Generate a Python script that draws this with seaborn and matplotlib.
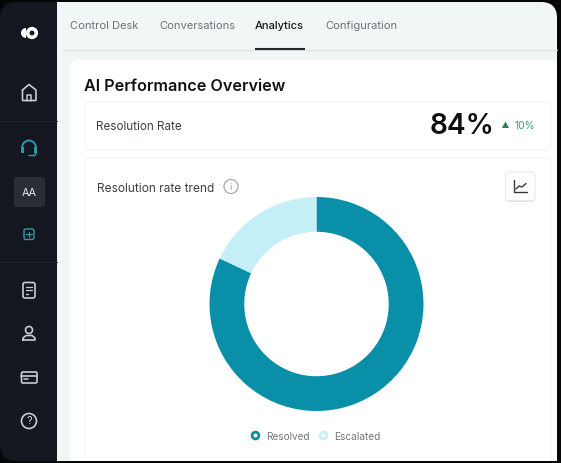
import matplotlib
matplotlib.use('Agg')
import matplotlib.pyplot as plt
from matplotlib.patches import FancyBboxPatch, Circle, Wedge, Rectangle, Arc, Polygon
import seaborn as sns

sns.set_theme(style='white')
plt.rcParams['font.family'] = ['Inter', 'DejaVu Sans']

# data
categories = ['Resolved', 'Escalated']
values = [82, 18]
colors = ['#0a8fa8', '#c5eff6']
tabs = ['Control Desk', 'Conversations', 'Analytics', 'Configuration']
tab_x = [70, 159, 255, 325]
title = 'AI Performance Overview'
kpi_label = 'Resolution Rate'
kpi_value = '84%'
kpi_delta = '10%'
card_title = 'Resolution rate trend'

W, H = 561, 463
DARK = '#14171f'
TEAL = '#2a9aa8'

fig = plt.figure(figsize=(W / 100, H / 100), dpi=100, facecolor='#050608')
bg = fig.add_axes([0, 0, 1, 1])
bg.set_xlim(0, W)
bg.set_ylim(H, 0)
bg.axis('off')


def rbox(x, y, w, h, r, fc, ec='none', lw=0, z=1):
    p = FancyBboxPatch((x + r, y + r), w - 2 * r, h - 2 * r,
                       boxstyle=f'round,pad={r},rounding_size={r}',
                       fc=fc, ec=ec, lw=lw, zorder=z)
    bg.add_patch(p)
    return p


# frame
rbox(0, 2, 300, 459, 16, DARK, z=1)
rbox(57, 2, 500, 459, 16, '#f1f6f7', z=2)
bg.add_patch(Rectangle((57, 2), 30, 459, fc='#f1f6f7', ec='none', zorder=2))
bg.plot([63, 557], [49.5, 49.5], color='#dde3e5', lw=0.8, zorder=3)
rbox(70, 60, 487, 401, 9, 'white', z=3)
bg.add_patch(Rectangle((70, 100), 487, 361, fc='white', ec='none', zorder=3))

# tabs
for name, x in zip(tabs, tab_x):
    active = name == 'Analytics'
    bg.text(x, 26, name, fontsize=8.05, va='center', color='#17191d' if active else '#6d7478',
            fontweight='medium' if active else 'normal', zorder=5)
bg.plot([255.5, 305], [49, 49], color='#22262b', lw=1.5, zorder=5, solid_capstyle='butt')

# headings
bg.text(84, 86.5, title, fontsize=11.65, fontweight='semibold', va='center', color='#0f1114', zorder=5)
rbox(85, 102, 466, 48, 5, 'white', ec='#f4f5f6', lw=0.8, z=4)
rbox(85, 158, 466, 320, 5, 'white', ec='#f4f5f6', lw=0.8, z=4)
bg.add_patch(Rectangle((60, 461), 500, 3, fc='#050608', ec='none', zorder=4.5))
bg.text(96.5, 126.5, kpi_label, fontsize=8.4, va='center', color='#3b4045', zorder=5)
bg.text(430, 126.5, kpi_value, fontsize=20.3, fontweight='semibold', va='center', color='#0c0e11', zorder=5)
bg.add_patch(Polygon([[502, 128], [509, 128], [505.5, 121.5]], fc='#2f7d55', ec='none', zorder=5))
bg.text(515, 126, kpi_delta, fontsize=7.4, va='center', color='#3f9a70', zorder=5)
bg.text(97.5, 188.5, card_title, fontsize=8.55, va='center', color='#3b4045', zorder=5)

# info icon
bg.add_patch(Circle((231, 186.5), 7, fc='none', ec='#a5a9ad', lw=0.9, zorder=5))
bg.text(231, 187, 'i', fontsize=6.5, ha='center', va='center', color='#8d9296', zorder=5)

# chart button
rbox(506, 173, 29, 29, 3, '#dfe2e4', z=4)
rbox(505.5, 172, 29.5, 28.5, 3, 'white', ec='#e8eaec', lw=0.8, z=4.5)
bg.plot([514, 514, 527], [180, 192, 192], color='#33383d', lw=1, zorder=5)
bg.plot([516, 519, 522, 526], [189, 186, 187, 183.5], color='#33383d', lw=1, zorder=5)

# logo
bg.add_patch(Circle((32, 33), 4.3, fc='none', ec='white', lw=2.6, zorder=5))
bg.add_patch(Wedge((26, 33), 5, 90, 270, fc='white', ec='none', zorder=5))

# sidebar icons
ICON = '#c8ccd0'
for yy in [120.5, 261.5]:
    bg.plot([0, 57], [yy, yy], color='#1f232a', lw=0.8, zorder=5)
# home
bg.plot([22.5, 29, 36, 36, 22.5, 22.5], [90, 84.5, 90, 100.5, 100.5, 90], color=ICON, lw=1.2, zorder=5)
bg.plot([27, 27, 31.5, 31.5], [100.5, 94.5, 94.5, 100.5], color=ICON, lw=1.1, zorder=5)
# headset
bg.add_patch(Arc((29, 148), 14, 15, theta1=180, theta2=360, ec=TEAL, lw=1.4, zorder=5))
bg.add_patch(Rectangle((21, 147), 3, 6, fc=TEAL, ec='none', zorder=5))
bg.add_patch(Rectangle((34.5, 147), 3, 6, fc=TEAL, ec='none', zorder=5))
bg.plot([36, 35, 29], [153, 155.5, 155.5], color=TEAL, lw=1.1, zorder=5)
# avatar
rbox(14, 177, 31, 30, 3, '#2a2d35', z=5)
bg.text(29.5, 192.5, 'AA', fontsize=7.8, color='#e6e8ea', ha='center', va='center', zorder=6)
# plus
rbox(24, 229, 10, 10.5, 2, 'none', ec=TEAL, lw=1, z=5)
bg.plot([29, 29], [231.5, 237], color=TEAL, lw=0.9, zorder=5)
bg.plot([26.2, 31.8], [234.3, 234.3], color=TEAL, lw=0.9, zorder=5)
# document
rbox(23, 282.5, 12, 15.5, 2, 'none', ec=ICON, lw=1.2, z=5)
for x1, yy in [(32, 286.5), (32, 290), (28, 293.5)]:
    bg.plot([26, x1], [yy, yy], color=ICON, lw=0.9, zorder=5)
# person
bg.add_patch(Circle((29, 330), 3.5, fc='none', ec=ICON, lw=1.2, zorder=5))
bg.plot([23, 23, 26, 32, 35, 35, 23], [340, 338, 335.5, 335.5, 338, 340, 340], color=ICON, lw=1.2, zorder=5)
# card
rbox(21.5, 372, 15.5, 11, 1.5, 'none', ec=ICON, lw=1.2, z=5)
bg.plot([21.5, 37], [375.5, 375.5], color=ICON, lw=1.2, zorder=5)
bg.plot([24, 28], [379, 379], color=ICON, lw=1.1, zorder=5)
# help
bg.add_patch(Circle((29, 421), 7.5, fc='none', ec=ICON, lw=1.2, zorder=5))
bg.text(29, 421.5, '?', fontsize=8, color=ICON, ha='center', va='center', zorder=5)

# donut
cx, cy, R = 316.5, 304, 107
ax = fig.add_axes([(cx - R) / W, 1 - (cy + R) / H, 2 * R / W, 2 * R / H], zorder=6)
ax.patch.set_alpha(0)
ax.pie(values, colors=colors, startangle=90, counterclock=False, radius=1,
       wedgeprops={'width': 0.325, 'linewidth': 0})
ax.set_xlim(-1, 1)
ax.set_ylim(-1, 1)

# legend
bg.add_patch(Circle((255.5, 435.5), 3.4, fc='white', ec=colors[0], lw=2, zorder=6))
bg.text(266, 436.5, categories[0], fontsize=7.2, va='center', color='#74797d', zorder=6)
bg.add_patch(Circle((323.5, 435.5), 3.4, fc='white', ec=colors[1], lw=2, zorder=6))
bg.text(334, 436.5, categories[1], fontsize=7.3, va='center', color='#74797d', zorder=6)

fig.savefig('out.png', dpi=100, facecolor=fig.get_facecolor())
